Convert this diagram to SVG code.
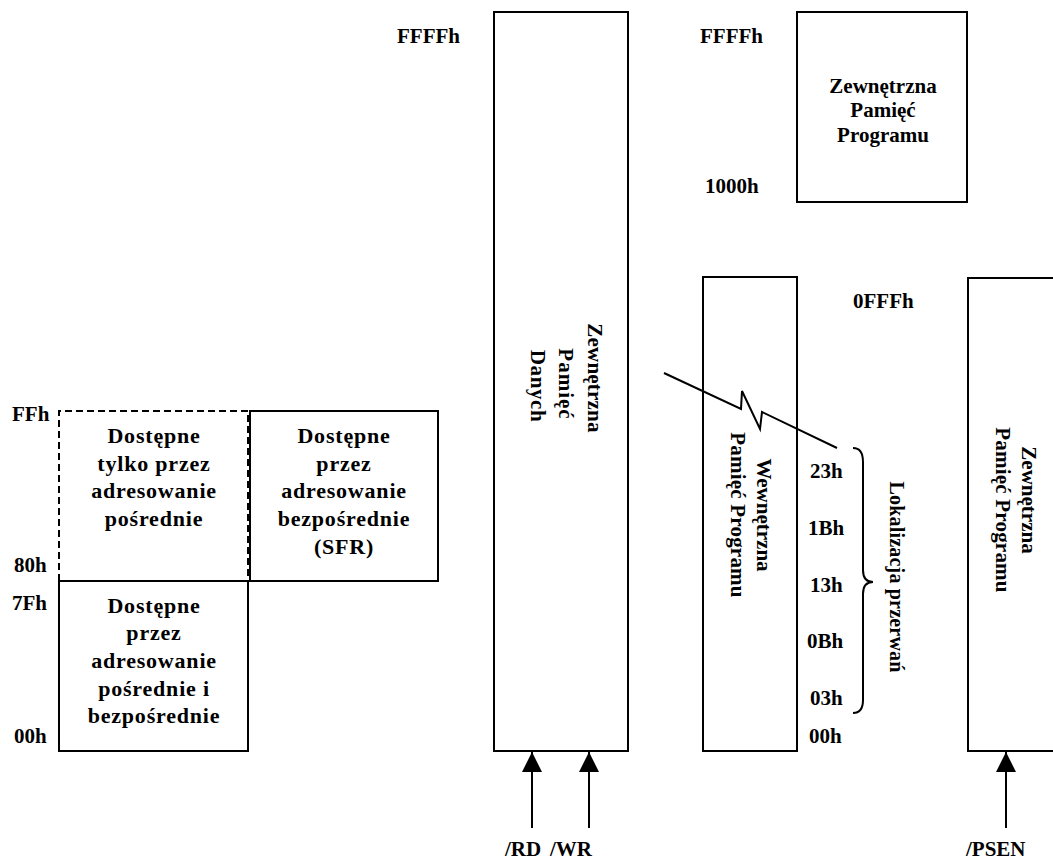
<svg xmlns="http://www.w3.org/2000/svg" width="1053" height="861" viewBox="0 0 1053 861">
<style>
text{font-family:"Liberation Serif","Times New Roman",serif;font-weight:bold;fill:#000}
.lbl{font-size:21px}
.box{font-size:22px;text-anchor:middle;letter-spacing:0.8px}
.vt{font-size:21px;text-anchor:middle;letter-spacing:0.2px}
.sq{font-size:21px;text-anchor:middle}
.r{fill:#fff;stroke:#000;stroke-width:2}
.d{fill:none;stroke:#000;stroke-width:2;stroke-dasharray:7 4}
.ln{fill:none;stroke:#000;stroke-width:2}
</style>
<defs>
<marker id="ah" viewBox="0 0 20 20" refX="20" refY="10" markerWidth="20" markerHeight="20" markerUnits="userSpaceOnUse" orient="auto">
<path d="M0,0 L20,10 L0,20 Z" fill="#000"/>
</marker>
</defs>
<rect width="1053" height="861" fill="#fff"/>

<g id="idata-indirect">
<path class="d" d="M59,581 V411 H248 V581"/>
<text class="box" x="154" y="443">Dostępne</text>
<text class="box" x="154" y="471">tylko przez</text>
<text class="box" x="154" y="498">adresowanie</text>
<text class="box" x="154" y="526">pośrednie</text>
</g>

<g id="sfr">
<rect class="r" x="250" y="411" width="188" height="170"/>
<text class="box" x="344" y="443">Dostępne</text>
<text class="box" x="344" y="471">przez</text>
<text class="box" x="344" y="498">adresowanie</text>
<text class="box" x="344" y="526">bezpośrednie</text>
<text class="box" x="344" y="554">(SFR)</text>
</g>

<g id="idata-direct">
<rect class="r" x="59" y="581" width="189" height="170"/>
<text class="box" x="154" y="613">Dostępne</text>
<text class="box" x="154" y="640">przez</text>
<text class="box" x="154" y="668">adresowanie</text>
<text class="box" x="154" y="696">pośrednie i</text>
<text class="box" x="154" y="723">bezpośrednie</text>
</g>

<g id="ext-data">
<rect class="r" x="494" y="12" width="134" height="739"/>
<text class="vt" transform="translate(588,378) rotate(90)">Zewnętrzna</text>
<text class="vt" transform="translate(559,384) rotate(90)" style="letter-spacing:1px">Pamięć</text>
<text class="vt" transform="translate(531,386) rotate(90)" style="letter-spacing:0.6px">Danych</text>
</g>

<g id="ext-prog-high">
<rect class="r" x="797" y="12" width="170" height="190"/>
<text class="sq" x="883" y="93">Zewnętrzna</text>
<text class="sq" x="883" y="117">Pamięć</text>
<text class="sq" x="883" y="142">Programu</text>
</g>

<g id="int-prog">
<rect class="r" x="703" y="277" width="94" height="474"/>
<text class="vt" transform="translate(757,515) rotate(90)" style="letter-spacing:0">Wewnętrzna</text>
<text class="vt" transform="translate(731,515) rotate(90)">Pamięć Programu</text>
</g>

<g id="ext-prog-low">
<rect class="r" x="968" y="278" width="92" height="473"/>
<text class="vt" transform="translate(1022,500) rotate(90)" style="letter-spacing:0">Zewnętrzna</text>
<text class="vt" transform="translate(996,510) rotate(90)">Pamięć Programu</text>
</g>

<g id="addresses">
<text class="lbl" x="12" y="421">FFh</text>
<text class="lbl" x="14" y="572">80h</text>
<text class="lbl" x="12" y="610">7Fh</text>
<text class="lbl" x="14" y="743">00h</text>
<text class="lbl" x="397" y="43">FFFFh</text>
<text class="lbl" x="700" y="43">FFFFh</text>
<text class="lbl" x="705" y="193">1000h</text>
<text class="lbl" x="853" y="308">0FFFh</text>
<text class="lbl" x="810" y="478">23h</text>
<text class="lbl" x="808" y="535">1Bh</text>
<text class="lbl" x="810" y="592">13h</text>
<text class="lbl" x="807" y="648">0Bh</text>
<text class="lbl" x="810" y="705">03h</text>
<text class="lbl" x="809" y="743">00h</text>
</g>

<g id="interrupts">
<text class="vt" transform="translate(890,577) rotate(90)" style="font-size:20px">Lokalizacja przerwań</text>
</g>

<g id="connectors">
<path class="ln" d="M664,373 L741,409 L742,391 L760,429 L762,412 L837,448"/>
<path class="ln" d="M853,448 Q863,448 863,462 V570 Q863,582 873,582 Q863,582 863,594 V700 Q863,713 853,713"/>
<line class="ln" x1="532" y1="828" x2="532" y2="752" marker-end="url(#ah)"/>
<line class="ln" x1="589" y1="828" x2="589" y2="752" marker-end="url(#ah)"/>
<line class="ln" x1="1006" y1="828" x2="1006" y2="752" marker-end="url(#ah)"/>
</g>

<g id="signals">
<text class="lbl" x="505" y="856">/RD</text>
<text class="lbl" x="550" y="856">/WR</text>
<text class="lbl" x="966" y="856">/PSEN</text>
</g>
</svg>
